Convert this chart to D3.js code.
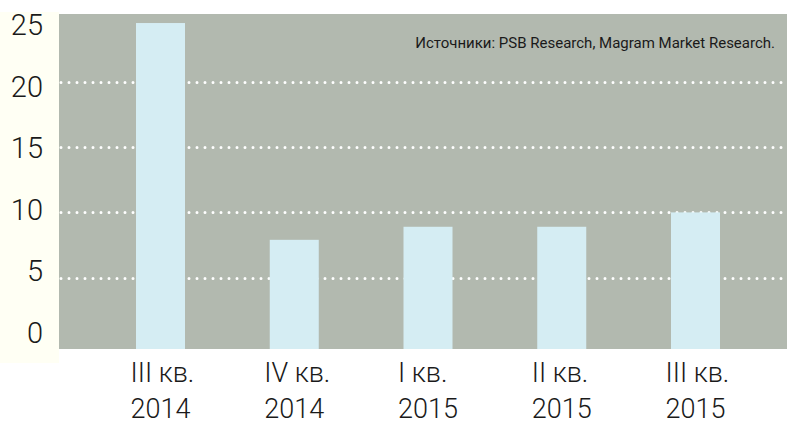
<!DOCTYPE html>
<html>
<head>
<meta charset="utf-8">
<script src="https://cdn.jsdelivr.net/npm/d3@7"></script>
<style>
  body { margin: 0; background: #fff; }
  text { font-family: Roboto, "Noto Sans", sans-serif; fill: #1a1a1a; }
</style>
</head>
<body>
<div id="chart"></div>
<script>
// data
var quarters = ["III кв.", "IV кв.", "I кв.", "II кв.", "III кв."];
var years = ["2014", "2014", "2015", "2015", "2015"];
var values = [24.5, 7.9, 8.9, 8.9, 10];
var yTicks = [0, 5, 10, 15, 20, 25];
var gridTicks = [5, 10, 15, 20];
var sourceText = "Источники: PSB Research, Magram Market Research.";

var svgWidth = 787;
var svgHeight = 427;

var plot = { left: 59, top: 14, right: 787, bottom: 349 };

var svg = d3.select("#chart")
    .append("svg")
        .attr("width", svgWidth)
        .attr("height", svgHeight);

// cream strip behind the y labels
svg.append("rect")
    .attr("x", 0)
    .attr("y", 12)
    .attr("width", plot.left)
    .attr("height", 351)
    .attr("fill", "#fffff4");

// grey plot area
svg.append("rect")
    .attr("x", plot.left)
    .attr("y", plot.top)
    .attr("width", plot.right - plot.left)
    .attr("height", plot.bottom - plot.top)
    .attr("fill", "#b2b9af");

var x = d3.scaleBand()
    .domain(d3.range(values.length))
    .range([136, 720])
    .paddingInner(0.6336)
    .paddingOuter(0);

var y = d3.scaleLinear()
    .domain([0, 25])
    .range([343, 16.5]);

// labels on the left sit on their own spacing in the original
var yLabel = d3.scaleLinear()
    .domain([0, 25])
    .range([332, 24.5]);

// dotted grid lines
svg.selectAll(".grid")
    .data(gridTicks)
    .enter().append("line")
        .attr("class", "grid")
        .attr("x1", plot.left + 2)
        .attr("x2", plot.right)
        .attr("y1", d => Math.round(y(d)) + 0.5)
        .attr("y2", d => Math.round(y(d)) + 0.5)
        .attr("stroke", "#ffffff")
        .attr("stroke-width", 3)
        .attr("stroke-linecap", "round")
        .attr("stroke-dasharray", "0 8");

// bars
svg.selectAll(".bar")
    .data(values)
    .enter().append("rect")
        .attr("class", "bar")
        .attr("x", (d, i) => x(i))
        .attr("y", d => y(d))
        .attr("width", x.bandwidth())
        .attr("height", d => plot.bottom - y(d))
        .attr("fill", "#d5edf3");

// y axis labels
var yAxis = d3.axisLeft(yLabel).tickValues(yTicks).tickSize(0).tickPadding(0);
var yAxisG = svg.append("g")
    .attr("transform", "translate(43,0)")
    .call(yAxis);
yAxisG.select(".domain").remove();
yAxisG.selectAll("text")
    .attr("font-size", 29)
    .attr("font-family", "Roboto")
    .attr("font-weight", 300)
    .attr("fill", "#1a1a1a")
    .attr("dy", "0.36em");

// x labels, two lines each
var xl = svg.selectAll(".xlabel")
    .data(values)
    .enter().append("text")
        .attr("class", "xlabel")
        .attr("font-size", 27)
        .attr("font-weight", 300);

xl.append("tspan")
    .attr("class", "q")
    .attr("y", 382)
    .text((d, i) => quarters[i]);
xl.append("tspan")
    .attr("class", "yr")
    .attr("y", 418)
    .text((d, i) => years[i]);

xl.each(function(d, i) {
    var t = d3.select(this);
    var w = t.select(".yr").node().getComputedTextLength();
    var x0 = x(i) + x.bandwidth() / 2 - w / 2;
    t.selectAll("tspan").attr("x", x0);
});

// source note
svg.append("text")
    .attr("x", 775)
    .attr("y", 48)
    .attr("text-anchor", "end")
    .attr("font-size", 15)
    .text(sourceText);
</script>
</body>
</html>
